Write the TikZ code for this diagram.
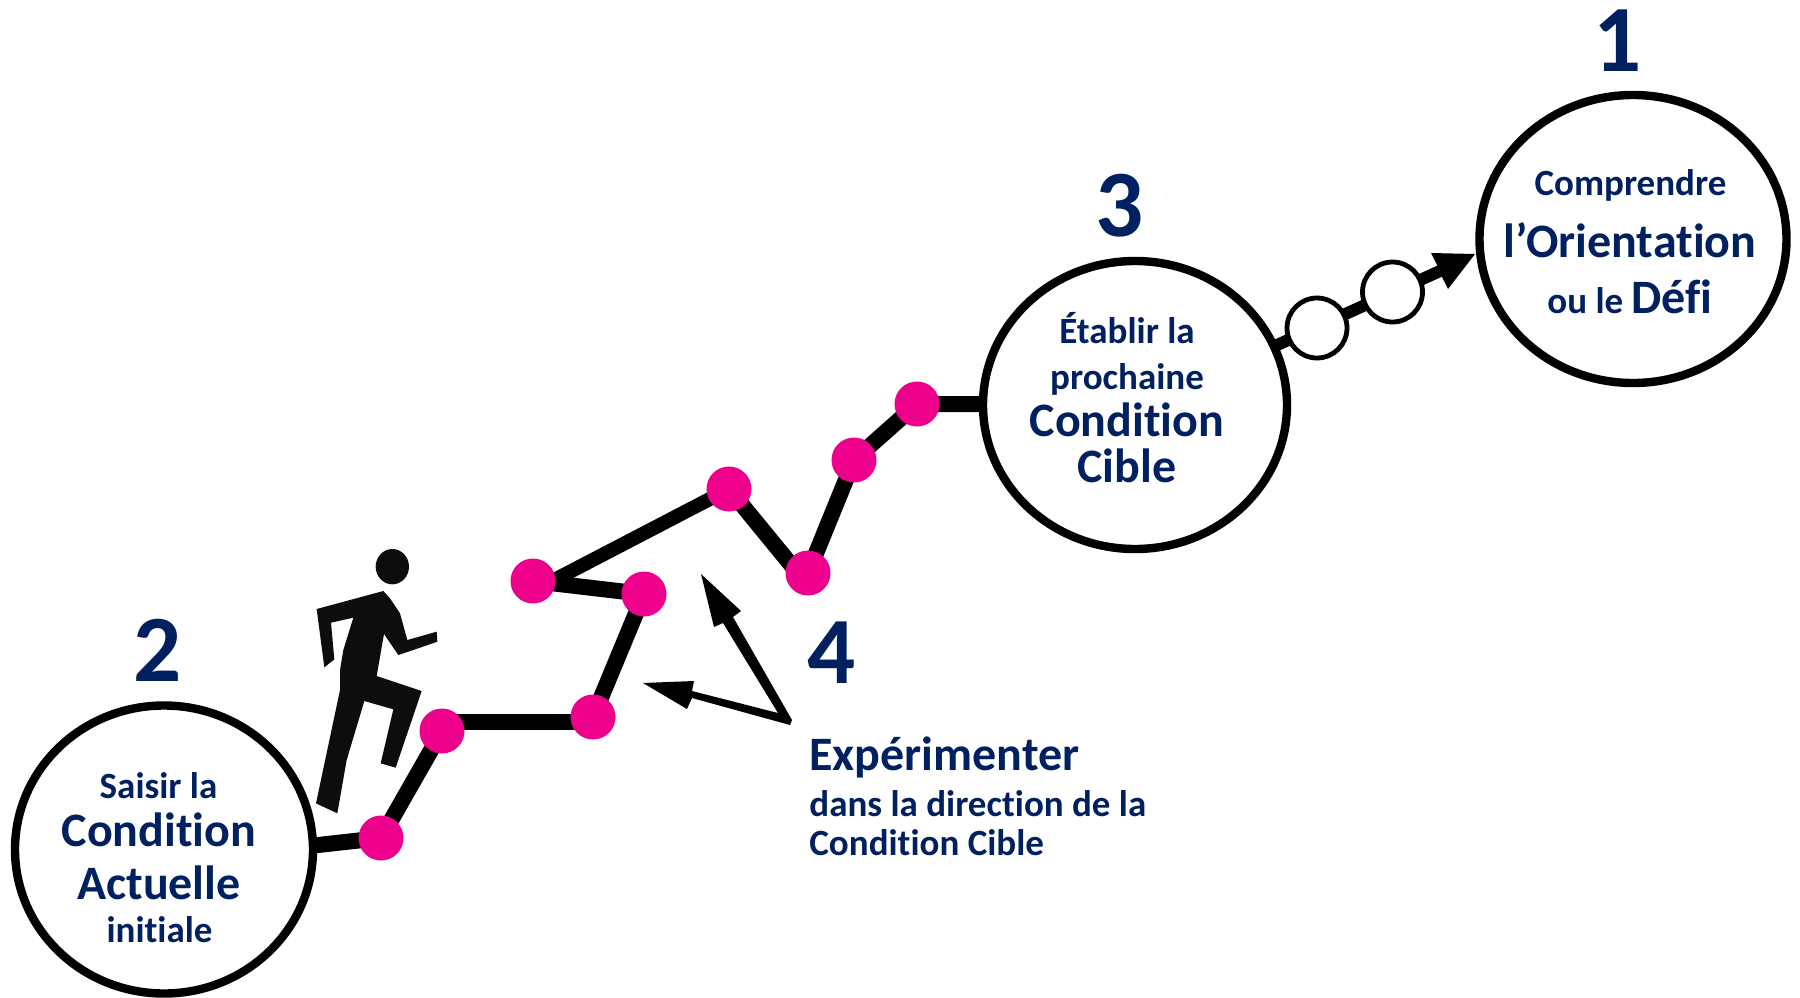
\documentclass[tikz,border=0pt]{standalone}
\usepackage{fontspec}
\setmainfont{Carlito}[BoldFont=Carlito Bold,Ligatures=CommonOff]
\usetikzlibrary{shapes.geometric}
\definecolor{navy}{HTML}{002060}
\definecolor{dotpink}{HTML}{EC008C}
\tikzset{
  x=0.5pt,y=-0.5pt,
  bigcircle/.style={draw=black,line width=4.2pt,fill=white,ellipse,inner sep=0pt,minimum height=144pt},
  dotnode/.style={circle,fill=dotpink,inner sep=0pt,outer sep=0pt,minimum size=22.5pt},
  whitedot/.style={circle,draw=black,line width=2.4pt,fill=white,inner sep=0pt,minimum size=30pt},
  pathline/.style={line width=8pt,draw=black},
  lbl/.style={text=navy,font=\bfseries,inner sep=0pt,anchor=base},
  lblw/.style={lbl,anchor=base west},
  num/.style={text=navy,font=\bfseries\fontsize{47.5}{47.5}\selectfont,inner sep=0pt,anchor=base},
}
\newcommand{\sz}[1]{\fontsize{#1}{#1}\selectfont}
\begin{document}
\begin{tikzpicture}
\useasboundingbox (0,0) rectangle (1800,997);
\fill[white] (0,0) rectangle (1800,997);
\coordinate (p1) at (381,838);
\coordinate (p2) at (442,731);
\coordinate (p3) at (593,717);
\coordinate (p4) at (644,594);
\coordinate (p5) at (533,581);
\coordinate (p6) at (729,489);
\coordinate (p7) at (808,573);
\coordinate (p8) at (854,460);
\coordinate (p9) at (917,404);
\coordinate (c2e) at (300,847);
\coordinate (c3w) at (1000,404);
\coordinate (c3e) at (1275,346);
\coordinate (baseA) at (1440,271);
\coordinate (l2) at (442,722);
\coordinate (l3) at (593,722);
\coordinate (p5b) at (533,591);
\coordinate (p7b) at (797,572);
\draw[pathline] (c2e) -- (p1) -- (p2);
\draw[pathline] (l2) -- (l3);
\draw[pathline,line join=miter] (p3) -- (p4) -- (p5);
\draw[line width=7pt] (p5b) -- (p6);
\draw[pathline] (p6) -- (p7b);
\draw[pathline,line join=miter] (p7) -- (p8) -- (p9) -- (c3w);
\draw[line width=6pt] (c3e) -- (baseA);
\fill (1475,254) -- (1431,253) -- (1437,265) -- (1442.5,278) -- (1448,289) -- cycle;
\fill (701,574) -- (741,611) -- (733,617) -- (792,720) -- (790,725) -- (692,698) -- (687,709) -- (643,683) -- (694,681) -- (692,691) -- (778,713) -- (723,623) -- (714,627) -- cycle;
\node[bigcircle,minimum width=153.5pt] (c1) at (1633,239) {};
\node[bigcircle,minimum width=152pt] (c3) at (1135,405) {};
\node[bigcircle,minimum width=149pt] (c2) at (164,849.5) {};
\foreach \i in {1,...,9} \node[dotnode] (d\i) at (p\i) {};
\node[whitedot] (w1) at (1317,328) {};
\node[whitedot] (w2) at (1392.5,292) {};
\begin{scope}[shift={(280,520)},x=0.16667pt,y=-0.16667pt]
\fill[black!95] (337,140) ellipse [x radius=50,y radius=53];
\fill[black!95] (110,267)--(310,213)--(330,235)--(360,280)--(382,360)--(470,335)--(472,365)--(400,390)--(355,405)--(312,342)--(290,468)--(425,513)--(347,743)--(302,730)--(340,568)--(253,543)--(200,720)--(172,880)--(108,850)--(180,510)--(180,450)--(190,390)--(220,293)--(153,308)--(163,418)--(133,442)--cycle;
\end{scope}
\node[num] (n1) at (1618,71) {1};
\node[num] (n3) at (1120,236) {3};
\node[num] (n2) at (157.5,681) {2};
\node[num] (n4) at (832,683) {4};
\node[lbl] (t1a) at (1630.5,195) {\sz{18.5}Comprendre};
\node[lbl] (t1b) at (1630,257) {\sz{24}l’Orientation};
\node[lbl] (t1c) at (1630,313) {\sz{18.5}ou le \sz{24}Défi};
\node[lbl] (t3a) at (1127,343) {\sz{18.5}Établir la};
\node[lbl] (t3b) at (1127,389) {\sz{18.5}prochaine};
\node[lbl] (t3c) at (1127,436) {\sz{24}Condition};
\node[lbl] (t3d) at (1127,482) {\sz{24}Cible};
\node[lbl] (t2a) at (158.5,798) {\sz{18.5}Saisir la};
\node[lbl] (t2b) at (159,846) {\sz{24}Condition};
\node[lbl] (t2c) at (159,899) {\sz{24}Actuelle};
\node[lbl] (t2d) at (159.5,942) {\sz{18.5}initiale};
\node[lblw] (t4a) at (809,770) {\sz{24}Expérimenter};
\node[lblw] (t4b) at (809,816) {\sz{18.5}dans la direction de la};
\node[lblw] (t4c) at (809,855) {\sz{18.5}Condition Cible};
\end{tikzpicture}
\end{document}
